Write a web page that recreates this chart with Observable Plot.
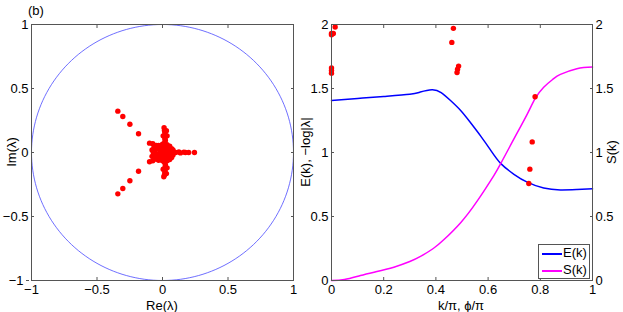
<!DOCTYPE html>
<html><head><meta charset="utf-8">
<script src="https://cdn.jsdelivr.net/npm/d3@7"></script>
<script src="https://cdn.jsdelivr.net/npm/@observablehq/plot@0.6"></script>
<style>
body{margin:0;background:#fff;}
#wrap{position:relative;width:623px;height:312px;overflow:hidden;font-family:"Liberation Sans",Arial,sans-serif;font-size:13px;color:#000;}
#wrap svg{position:absolute;top:0;}
.lab{position:absolute;white-space:nowrap;line-height:12px;}
.rot{transform:translate(-50%,-50%) rotate(-90deg);}
.ctr{transform:translate(-50%,-50%);}
#legend{position:absolute;left:538px;top:244px;width:50px;height:33px;border:1px solid #555;background:#fff;}
#legend .sw{position:absolute;left:3px;width:20px;height:2px;}
#legend .tx{position:absolute;left:24px;line-height:15px;}
</style></head><body>
<div id="wrap"></div>
<script>
// Left panel: eigenvalues lambda in the complex plane
const reLambda = [
  -0.341,-0.303,-0.249,-0.183, -0.341,-0.303,-0.249,-0.183,
  0.244,0.200,0.175,0.163,0.137,0.125,0.100,0.086,0.070,
  0.012,0.015,0.018,0.020,0.020,0.018,0.022,0.015,0.025,
  0.010,0.015,0.018,0.020,0.020,0.022,0.015,0.025,
  -0.099,-0.074,-0.048,-0.028,
  -0.099,-0.074,-0.048,-0.028,
  0.000,0.020,-0.020,0.030,-0.030,0.040,-0.040,0.010,0.050,-0.050,0.060,-0.010,0.045,-0.060,0.030,0.050,-0.020,0.040,-0.040,0.065,0.010,0.000,-0.010,0.030,
  0.070,0.070,-0.065,-0.065,0.080,-0.070,0.000,0.000,0.035,-0.030,0.035,-0.030,0.055,0.055,-0.050,-0.050,0.080,0.080,-0.080,-0.080,
  0.005,0.035,0.005,0.035,0.030,0.030
];
const imLambda = [
  0.323,0.281,0.221,0.146, -0.323,-0.281,-0.221,-0.146,
  0.000,0.000,0.000,0.003,-0.003,0.004,0.000,0.005,-0.004,
  0.193,0.172,0.159,0.140,0.120,0.105,0.094,0.075,0.055,
  -0.190,-0.175,-0.155,-0.140,-0.115,-0.095,-0.076,-0.060,
  0.073,0.068,0.055,0.037,
  -0.072,-0.065,-0.050,-0.034,
  0.000,0.020,0.020,-0.020,-0.010,0.010,0.030,-0.040,-0.030,-0.020,0.020,0.050,0.040,0.010,0.035,-0.010,-0.045,-0.050,-0.035,-0.015,0.030,-0.025,-0.005,0.005,
  0.030,-0.040,0.040,-0.040,0.000,0.000,0.065,-0.065,0.060,0.055,-0.065,-0.060,0.050,-0.055,0.050,-0.050,0.020,-0.020,0.020,-0.030,
  0.130,0.130,-0.130,-0.120,0.170,-0.165
];
// Right panel
const kE = [0,0.1,0.2,0.3,0.34,0.385,0.42,0.456,0.494,0.53,0.571,0.609,0.648,0.699,0.75,0.813,0.877,0.94,1];
const eVals = [1.406,1.422,1.438,1.455,1.472,1.49,1.468,1.406,1.33,1.24,1.13,1.02,0.915,0.83,0.768,0.722,0.708,0.711,0.716];
const kS = [0,0.05,0.111,0.17,0.239,0.3,0.341,0.39,0.43,0.494,0.558,0.622,0.648,0.7,0.75,0.78,0.813,0.85,0.877,0.94,1];
const sVals = [0,0.008,0.039,0.068,0.104,0.148,0.188,0.25,0.318,0.45,0.62,0.82,0.912,1.11,1.30,1.42,1.51,1.575,1.61,1.655,1.667];
const phiDots = [0,0,0.007,0.014,0,0,0,0.467,0.461,0.487,0.483,0.481,0.780,0.769,0.760,0.756];
const logDots = [1.93,1.92,1.93,1.98,1.66,1.64,1.62,1.97,1.86,1.675,1.65,1.625,1.435,1.083,0.87,0.758];
const ticksLeft = [-1,-0.5,0,0.5,1];
const ticksK = [0,0.2,0.4,0.6,0.8,1];
const ticksY = [0,0.5,1,1.5,2];
const circleDeg = d3.range(0,361,2);

const fmt = d => (d < 0 ? "\u2212" + Math.abs(d) : String(d));
const blank = () => "";
const font = "'Liberation Sans', Arial, sans-serif";
const style = {fontSize:"13px", fontFamily:font, background:"transparent", overflow:"visible", color:"#000"};
const tk = "#555";

const ptsL = reLambda.map((r,i)=>({re:r, im:imLambda[i]}));
const p1 = Plot.plot({
  width:310, height:312, marginLeft:31, marginRight:17, marginTop:24, marginBottom:32,
  x:{domain:[-1,1]}, y:{domain:[-1,1]}, style,
  marks:[
    Plot.line(circleDeg,{x:a=>Math.cos(a*Math.PI/180), y:a=>Math.sin(a*Math.PI/180), stroke:"#4a4aff", strokeWidth:0.8}),
    Plot.dot(ptsL,{x:"re", y:"im", r:2.7, fill:"#ff0000"}),
    Plot.frame({stroke:tk}),
    Plot.axisX(ticksLeft,{anchor:"bottom", tickSize:-3, tickPadding:7, tickFormat:fmt, stroke:tk, label:null}),
    Plot.axisX(ticksLeft,{anchor:"top", tickSize:-3, tickFormat:blank, stroke:tk, label:null}),
    Plot.axisY(ticksLeft.slice(1),{anchor:"left", tickSize:-3, tickPadding:6, tickFormat:fmt, stroke:tk, label:null}),
    Plot.axisY(ticksLeft.slice(0,1),{anchor:"left", tickSize:-3, tickPadding:6, dx:-5, tickFormat:fmt, stroke:tk, label:null}),
    Plot.axisY(ticksLeft,{anchor:"right", tickSize:-3, tickFormat:blank, stroke:tk, label:null})
  ]
});

const eData = kE.map((k,i)=>({k, v:eVals[i]}));
const sData = kS.map((k,i)=>({k, v:sVals[i]}));
const dData = phiDots.map((k,i)=>({k, v:logDots[i]}));
const p2 = Plot.plot({
  width:323, height:312, marginLeft:31, marginRight:31, marginTop:24, marginBottom:32,
  x:{domain:[0,1]}, y:{domain:[0,2]}, style,
  marks:[
    Plot.line(eData,{x:"k", y:"v", stroke:"#0000ff", strokeWidth:1.5, curve:"natural"}),
    Plot.line(sData,{x:"k", y:"v", stroke:"#ff00ff", strokeWidth:1.5, curve:"natural"}),
    Plot.dot(dData,{x:"k", y:"v", r:2.7, fill:"#ff0000"}),
    Plot.frame({stroke:tk}),
    Plot.axisX(ticksK,{anchor:"bottom", tickSize:-3, tickPadding:7, tickFormat:fmt, stroke:tk, label:null}),
    Plot.axisX(ticksK,{anchor:"top", tickSize:-3, tickFormat:blank, stroke:tk, label:null}),
    Plot.axisY(ticksY,{anchor:"left", tickSize:-3, tickPadding:6, tickFormat:fmt, stroke:tk, label:null}),
    Plot.axisY(ticksY,{anchor:"right", tickSize:-3, tickPadding:6, tickFormat:fmt, stroke:tk, label:null})
  ]
});

const wrap = document.getElementById("wrap");
p1.style.left = "0px";
p2.style.left = "300px";
wrap.appendChild(p1);
wrap.appendChild(p2);

function label(text, x, y, cls){
  const d = document.createElement("div");
  d.className = "lab " + cls;
  d.style.left = x + "px"; d.style.top = y + "px";
  d.textContent = text;
  wrap.appendChild(d);
}
label("(b)", 28, 5, "");
label("Re(\u03bb)", 162, 305.5, "ctr");
label("Im(\u03bb)", 12, 152, "rot");
label("k/\u03c0, \u03d5/\u03c0", 461, 305.5, "ctr");
label("E(k), \u2212log|\u03bb|", 306, 152, "rot");
label("S(k)", 612, 152, "rot");

const lg = document.createElement("div");
lg.id = "legend";
lg.innerHTML = '<div class="sw" style="top:8px;background:#0000ff"></div><div class="tx" style="top:0px">E(k)</div>' +
               '<div class="sw" style="top:25px;background:#ff00ff"></div><div class="tx" style="top:17px">S(k)</div>';
wrap.appendChild(lg);
</script>
</body></html>
